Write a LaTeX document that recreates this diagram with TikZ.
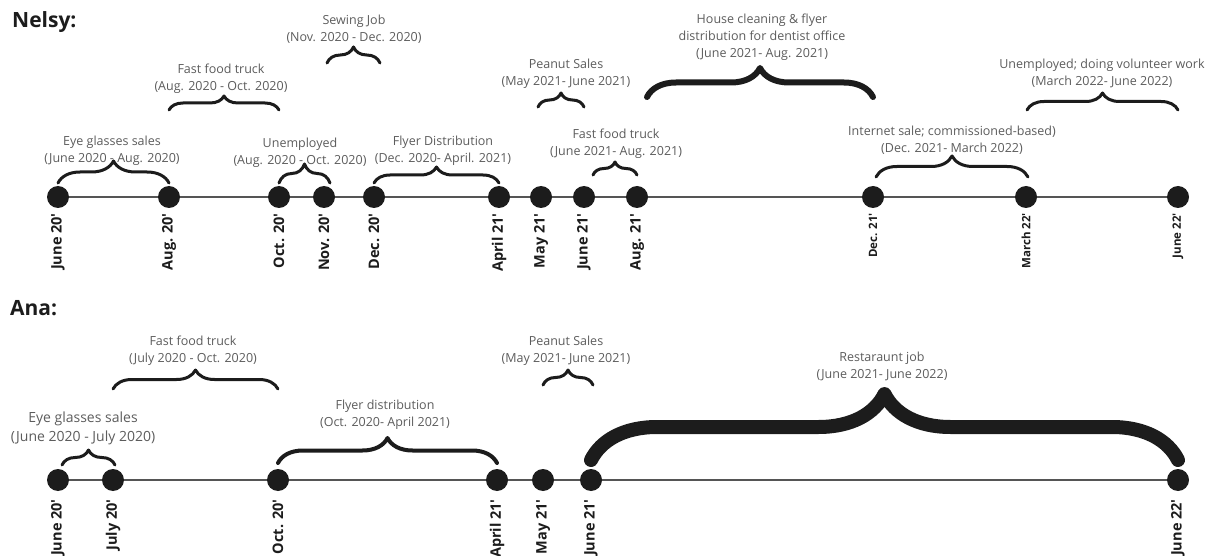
\documentclass[tikz,border=0pt]{standalone}
\usepackage{fontspec}
\setmainfont{Open Sans}
\usetikzlibrary{decorations.pathreplacing,calc}
\definecolor{ink}{HTML}{1C1C1C}
\definecolor{txt}{HTML}{5C5C5C}
\definecolor{axis}{HTML}{555555}
\newcommand{\sq}{\textquotesingle}
\tikzset{
  dot/.style={circle,fill=ink,minimum size=22pt,inner sep=0pt},
  datelbl/.style={rotate=90,anchor=east,inner sep=0pt,text=ink,
    font=\bfseries\fontsize{14.5}{14.5}\selectfont},
  datesm/.style={datelbl,font=\bfseries\fontsize{11.5}{11.5}\selectfont},
  job/.style={align=center,text=txt,inner sep=0pt,font=\fontsize{12.5}{17}\selectfont},
  jobbig/.style={job,font=\fontsize{14}{19}\selectfont},
  brace/.style={decorate,decoration={brace,amplitude=#1},draw=ink,
    line width=3pt,line cap=round,line join=round},
  axisline/.style={draw=axis,line width=1.6pt},
  who/.style={anchor=base west,inner sep=0pt,text=ink,
    font=\bfseries\fontsize{21}{21}\selectfont}
}
\begin{document}
\begin{tikzpicture}[x=1pt,y=-1pt]
\useasboundingbox (0,0) rectangle (1208,556);

% ---------------- Nelsy ----------------
\node[who] (nelsy) at (12,28) {Nelsy:};

\foreach \n/\x in {1/58,2/169,3/279,4/324,5/374,6/499,7/541,8/584,9/637,10/873,11/1026,12/1178}
  \node[dot] (n\n) at (\x,197) {};
\draw[axisline] (n1) -- (n2) -- (n3) -- (n4) -- (n5) -- (n6) -- (n7) -- (n8)
  -- (n9) -- (n10) -- (n11) -- (n12);

\node[datelbl] (ln1) at (n1 |- 0,213) {June 20\sq};
\node[datelbl] (ln2) at (n2 |- 0,213) {Aug. 20\sq};
\node[datelbl] (ln3) at (n3 |- 0,213) {Oct. 20\sq};
\node[datelbl] (ln4) at (n4 |- 0,213) {Nov. 20\sq};
\node[datelbl] (ln5) at (n5 |- 0,213) {Dec. 20\sq};
\node[datelbl] (ln6) at (n6 |- 0,213) {April 21\sq};
\node[datelbl] (ln7) at (n7 |- 0,213) {May 21\sq};
\node[datelbl] (ln8) at (n8 |- 0,213) {June 21\sq};
\node[datelbl] (ln9) at (n9 |- 0,213) {Aug. 21\sq};
\node[datesm] (ln10) at (n10 |- 0,213) {Dec. 21\sq};
\node[datesm] (ln11) at (n11 |- 0,213) {March 22\sq};
\node[datesm] (ln12) at (n12 |- 0,213) {June 22\sq};

% jobs
\draw[brace=22] (n1 |- 0,183) -- (n2 |- 0,183);
\node[job] (jn1) at (112,151) {Eye glasses sales\\(June 2020 - Aug. 2020)};

\draw[brace=14] (n2 |- 0,110) -- (n3 |- 0,110);
\node[job] (jn2) at (221,79) {Fast food truck\\(Aug. 2020 - Oct. 2020)};

\draw[brace=16] ($(n4 |- 0,63)+(3,0)$) -- ($(n5 |- 0,63)+(6,0)$);
\node[job] (jn3) at (354,29) {Sewing Job\\(Nov. 2020 - Dec. 2020)};

\draw[brace=19] (n3 |- 0,183) -- ($(n4 |- 0,183)+(6,0)$);
\node[job] (jn4) at (300,153) {Unemployed\\(Aug. 2020 - Oct. 2020)};

\draw[brace=16] (n5 |- 0,183) -- (n6 |- 0,183);
\node[job] (jn5) at (443,151) {Flyer Distribution\\(Dec. 2020- April. 2021)};

\draw[brace=14] ($(n7 |- 0,107)+(-3,0)$) -- (n8 |- 0,107);
\node[job] (jn6) at (566,74) {Peanut Sales\\(May 2021- June 2021)};

\draw[brace=13] ($(n8 |- 0,175)+(9,0)$) -- (n9 |- 0,175);
\node[job] (jn7) at (616,144) {Fast food truck\\(June 2021- Aug. 2021)};

\draw[brace=29,line width=6pt] ($(n9 |- 0,97)+(10,0)$) -- (n10 |- 0,97);
\node[job] (jn8) at (762,37) {House cleaning \& flyer\\distribution for dentist office\\(June 2021- Aug. 2021)};

\draw[brace=21] ($(n10 |- 0,177)+(3,0)$) -- ($(n11 |- 0,177)+(2,0)$);
\node[job] (jn9) at (952,140) {Internet sale; commissioned-based)\\(Dec. 2021- March 2022)};

\draw[brace=17] ($(n11 |- 0,110)+(1,0)$) -- (n12 |- 0,110);
\node[job] (jn10) at (1102,73) {Unemployed; doing volunteer work\\(March 2022- June 2022)};

% ---------------- Ana ----------------
\node[who] (ana) at (10,315) {Ana:};

\foreach \n/\x in {1/58,2/113,3/278,4/497,5/543,6/591,7/1178}
  \node[dot] (a\n) at (\x,480) {};
\draw[axisline] (a1) -- (a2) -- (a3) -- (a4) -- (a5) -- (a6) -- (a7);

\node[datelbl] (la1) at (a1 |- 0,499) {June 20\sq};
\node[datelbl] (la2) at (a2 |- 0,499) {July 20\sq};
\node[datelbl] (la3) at (a3 |- 0,499) {Oct. 20\sq};
\node[datelbl] (la4) at (a4 |- 0,499) {April 21\sq};
\node[datelbl] (la5) at (a5 |- 0,499) {May 21\sq};
\node[datelbl] (la6) at (a6 |- 0,499) {June 21\sq};
\node[datelbl] (la7) at (a7 |- 0,499) {June 22\sq};

\draw[brace=15] ($(a1 |- 0,465)+(4,0)$) -- ($(a2 |- 0,465)+(2,0)$);
\node[jobbig] (ja1) at (83,428) {Eye glasses sales\\(June 2020 - July 2020)};

\draw[brace=19] (a2 |- 0,389) -- (a3 |- 0,389);
\node[job] (ja2) at (193,351) {Fast food truck\\(July 2020 - Oct. 2020)};

\draw[brace=25,line width=4pt] (a3 |- 0,463) -- (a4 |- 0,463);
\node[job] (ja3) at (385,415) {Flyer distribution\\(Oct. 2020- April 2021)};

\draw[brace=15] (a5 |- 0,385) -- ($(a6 |- 0,385)+(2,0)$);
\node[job] (ja4) at (566,351) {Peanut Sales\\(May 2021- June 2021)};

\draw[brace=66,line width=14pt] (a6 |- 0,460) -- (a7 |- 0,460);
\node[job] (ja5) at (882,366) {Restaraunt job\\(June 2021- June 2022)};
\end{tikzpicture}
\end{document}
